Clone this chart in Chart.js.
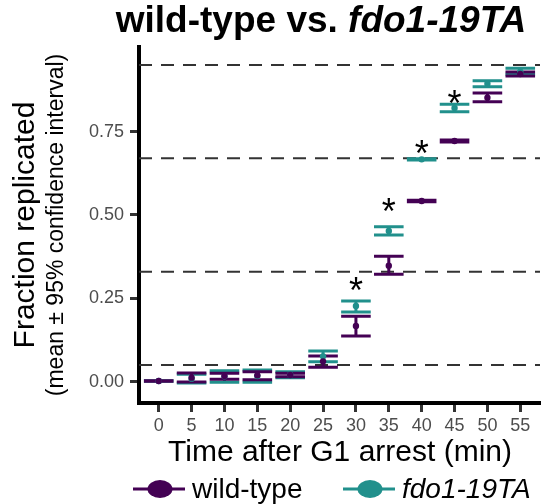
<!DOCTYPE html>
<html lang="en">
<head>
    <meta charset="UTF-8">
    <title>wild-type vs. fdo1-19TA</title>
    <style>
        body { margin: 0; background: #fff; }
        #wrap { width: 544px; height: 504px; }
    </style>
    <script src="https://cdn.jsdelivr.net/npm/chart.js"></script>
</head>
<body>
    <div id="wrap">
        <canvas id="replChart" width="544" height="504"></canvas>
    </div>

    <script>
        // time points (min after G1 arrest)
        const times = [0, 5, 10, 15, 20, 25, 30, 35, 40, 45, 50, 55];

        // wild-type: mean and 95% CI
        const wtMean = [0.002, 0.012, 0.017, 0.019, 0.020, 0.061, 0.167, 0.348, 0.542, 0.722, 0.852, 0.923];
        const wtLow  = [0.001, -0.001, 0.007, 0.006, 0.015, 0.043, 0.137, 0.322, 0.540, 0.719, 0.840, 0.917];
        const wtHigh = [0.003, 0.026, 0.025, 0.030, 0.025, 0.077, 0.196, 0.376, 0.544, 0.725, 0.866, 0.929];

        // fdo1-19TA: mean and 95% CI
        const fdoMean = [0.002, 0.009, 0.016, 0.017, 0.021, 0.076, 0.227, 0.452, 0.667, 0.821, 0.894, 0.930];
        const fdoLow  = [0.001, -0.004, -0.002, -0.002, 0.012, 0.060, 0.209, 0.440, 0.665, 0.810, 0.885, 0.922];
        const fdoHigh = [0.003, 0.022, 0.033, 0.035, 0.030, 0.092, 0.242, 0.465, 0.669, 0.832, 0.903, 0.940];

        // reference levels (dashed lines)
        const cutoffs = [0.05, 0.33, 0.67, 0.95];

        // significance marks
        const starTimes = [30, 35, 40, 45];
        const starLevels = [0.294, 0.530, 0.704, 0.854];

        const yTicks = [0, 0.25, 0.5, 0.75];

        const PURPLE = '#440154';
        const TEAL = '#21908C';
        const FONT = "'Liberation Sans', Arial, sans-serif";

        // draws the dashed levels and the CI bars under the points
        const errorBars = {
            id: 'errorBars',
            beforeDatasetsDraw(chart) {
                const { ctx, chartArea, scales: { x, y } } = chart;
                ctx.save();
                ctx.strokeStyle = '#333';
                ctx.lineWidth = 2;
                ctx.setLineDash([13, 9]);
                cutoffs.forEach(c => {
                    const py = y.getPixelForValue(c);
                    ctx.beginPath();
                    ctx.moveTo(chartArea.left, py);
                    ctx.lineTo(chartArea.right, py);
                    ctx.stroke();
                });
                ctx.setLineDash([]);

                const half = x.getPixelForValue(2.25) - x.getPixelForValue(0);
                const series = [
                    { lo: fdoLow, hi: fdoHigh, color: TEAL },
                    { lo: wtLow, hi: wtHigh, color: PURPLE }
                ];
                ctx.lineWidth = 3;
                series.forEach(s => {
                    ctx.strokeStyle = s.color;
                    times.forEach((t, i) => {
                        const px = x.getPixelForValue(t);
                        const pl = y.getPixelForValue(s.lo[i]);
                        const ph = y.getPixelForValue(s.hi[i]);
                        ctx.beginPath();
                        ctx.moveTo(px, pl);
                        ctx.lineTo(px, ph);
                        ctx.moveTo(px - half, pl);
                        ctx.lineTo(px + half, pl);
                        ctx.moveTo(px - half, ph);
                        ctx.lineTo(px + half, ph);
                        ctx.stroke();
                    });
                });
                ctx.restore();
            }
        };

        // title, axis titles, asterisks and legend
        const labels = {
            id: 'labels',
            afterDraw(chart) {
                const { ctx, chartArea, scales: { x, y } } = chart;
                ctx.save();
                ctx.fillStyle = '#000';

                // title, part of it in italics
                const t1 = 'wild-type vs. ';
                const t2 = 'fdo1-19TA';
                ctx.font = 'bold 37px ' + FONT;
                const w1 = ctx.measureText(t1).width;
                ctx.font = 'italic bold 37px ' + FONT;
                const w2 = ctx.measureText(t2).width;
                let tx = 321 - (w1 + w2) / 2;
                ctx.textBaseline = 'alphabetic';
                ctx.textAlign = 'left';
                ctx.font = 'bold 37px ' + FONT;
                ctx.fillText(t1, tx, 32);
                ctx.font = 'italic bold 37px ' + FONT;
                ctx.fillText(t2, tx + w1, 32);

                // x axis title
                ctx.font = '30px ' + FONT;
                ctx.textAlign = 'center';
                ctx.fillText('Time after G1 arrest (min)', 340, 461);

                // y axis title (two lines)
                const midY = (chartArea.top + chartArea.bottom) / 2;
                ctx.save();
                ctx.translate(0, midY);
                ctx.rotate(-Math.PI / 2);
                ctx.textBaseline = 'middle';
                ctx.font = '30px ' + FONT;
                ctx.fillText('Fraction replicated', 0, 26);
                ctx.font = '23px ' + FONT;
                ctx.fillText('(mean \u00b1 95% confidence interval)', 0, 57);
                ctx.restore();

                // asterisks
                ctx.font = '36px ' + FONT;
                ctx.textAlign = 'center';
                ctx.textBaseline = 'alphabetic';
                const m = ctx.measureText('*');
                const off = (m.actualBoundingBoxAscent - m.actualBoundingBoxDescent) / 2;
                starTimes.forEach((t, i) => {
                    ctx.fillText('*', x.getPixelForValue(t), y.getPixelForValue(starLevels[i]) + off);
                });

                // legend
                const items = [
                    { text: 'wild-type', color: PURPLE, x0: 133, italic: false },
                    { text: 'fdo1-19TA', color: TEAL, x0: 343, italic: true }
                ];
                const ly = 489;
                items.forEach(it => {
                    ctx.strokeStyle = it.color;
                    ctx.fillStyle = it.color;
                    ctx.lineWidth = 3;
                    ctx.beginPath();
                    ctx.moveTo(it.x0, ly);
                    ctx.lineTo(it.x0 + 52, ly);
                    ctx.stroke();
                    ctx.beginPath();
                    ctx.ellipse(it.x0 + 27, ly, 12.5, 9, 0, 0, Math.PI * 2);
                    ctx.fill();
                    ctx.fillStyle = '#000';
                    ctx.font = (it.italic ? 'italic ' : '') + '28px ' + FONT;
                    ctx.textAlign = 'left';
                    ctx.fillText(it.text, it.x0 + 59, 498);
                });
                ctx.restore();
            }
        };

        const ctx = document.getElementById('replChart').getContext('2d');
        new Chart(ctx, {
            type: 'scatter',
            data: {
                datasets: [
                    {
                        // lower order is drawn on top
                        label: 'wild-type',
                        order: 0,
                        data: times.map((t, i) => ({ x: t, y: wtMean[i] })),
                        backgroundColor: PURPLE,
                        borderWidth: 0,
                        pointRadius: 3.2
                    },
                    {
                        label: 'fdo1-19TA',
                        order: 1,
                        data: times.map((t, i) => ({ x: t, y: fdoMean[i] })),
                        backgroundColor: TEAL,
                        borderWidth: 0,
                        pointRadius: 3.2
                    }
                ]
            },
            options: {
                responsive: false,
                animation: false,
                devicePixelRatio: 1,
                layout: { padding: { left: 0, top: 47, right: 1, bottom: 0 } },
                plugins: {
                    legend: { display: false },
                    tooltip: { enabled: false }
                },
                scales: {
                    x: {
                        type: 'linear',
                        min: -3,
                        max: 58,
                        afterBuildTicks: s => { s.ticks = times.map(v => ({ value: v })); },
                        afterFit: s => { s.height = 101; },
                        grid: { drawOnChartArea: false, drawTicks: true, tickLength: 9, tickWidth: 3, tickColor: '#333' },
                        border: { display: true, color: '#000', width: 4 },
                        ticks: {
                            autoSkip: false,
                            maxRotation: 0,
                            padding: 3,
                            color: '#4d4d4d',
                            font: { family: FONT, size: 18 },
                            callback: v => String(v)
                        }
                    },
                    y: {
                        min: -0.064,
                        max: 1.004,
                        afterBuildTicks: s => { s.ticks = yTicks.map(v => ({ value: v })); },
                        afterFit: s => { s.width = 139; },
                        grid: { drawOnChartArea: false, drawTicks: true, tickLength: 9, tickWidth: 3, tickColor: '#333' },
                        border: { display: true, color: '#000', width: 4 },
                        ticks: {
                            padding: 6,
                            color: '#4d4d4d',
                            font: { family: FONT, size: 18 },
                            callback: v => v.toFixed(2)
                        }
                    }
                }
            },
            plugins: [errorBars, labels]
        });
    </script>
</body>
</html>
